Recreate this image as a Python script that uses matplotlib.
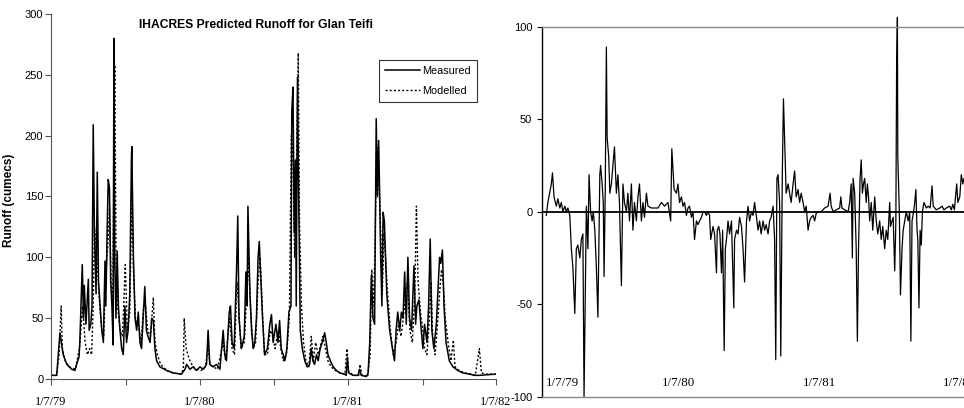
import matplotlib
matplotlib.use("Agg")
import matplotlib.pyplot as plt
import matplotlib.dates as mdates
import pandas as pd

# day offset from 1 Jul 1979, runoff (cumecs)
measured = [
    (0, 3), (14, 3), (22, 38), (30, 20), (39, 12), (51, 8), (59, 7), (63, 12), (69, 18), (71, 30),
    (77, 94), (80, 50), (82, 77), (86, 45), (92, 82), (94, 40), (98, 45), (101, 60), (104, 209),
    (107, 120), (111, 70), (114, 170), (117, 80), (121, 60), (125, 40), (129, 30), (133, 97),
    (135, 60), (139, 135), (141, 164), (144, 157), (147, 80), (150, 60), (153, 28), (155, 280),
    (157, 100), (160, 50), (163, 105), (166, 60), (170, 40), (174, 25), (178, 20), (182, 60),
    (186, 30), (190, 40), (194, 70), (198, 180), (199, 191), (203, 100), (207, 50), (211, 40),
    (215, 55), (219, 30), (223, 25), (227, 50), (231, 76), (235, 40), (239, 35), (244, 30),
    (248, 50), (252, 48), (256, 25), (260, 15), (268, 10), (285, 7), (301, 5), (321, 4), (330, 8),
    (334, 12), (342, 8), (350, 10), (358, 7), (367, 10), (375, 8), (383, 12), (387, 40), (391, 12),
    (399, 10), (408, 12), (416, 8), (424, 40), (428, 20), (432, 15), (439, 55), (442, 60), (446, 30),
    (451, 25), (457, 90), (460, 134), (463, 50), (469, 25), (476, 35), (480, 88), (483, 60),
    (485, 142), (490, 70), (494, 40), (498, 25), (502, 30), (506, 50), (510, 100), (513, 113),
    (516, 90), (521, 50), (526, 20), (533, 25), (539, 45), (543, 53), (547, 30), (554, 45),
    (559, 30), (563, 48), (567, 25), (572, 20), (576, 15), (581, 25), (586, 55), (591, 60),
    (593, 220), (596, 240), (599, 120), (602, 180), (604, 60), (607, 248), (610, 150), (614, 40),
    (619, 25), (625, 15), (631, 10), (637, 12), (641, 25), (645, 15), (649, 12), (654, 20),
    (658, 15), (663, 25), (668, 30), (674, 38), (678, 30), (682, 20), (688, 15), (695, 10),
    (703, 7), (711, 5), (723, 4), (727, 3), (730, 18), (733, 5), (744, 3), (756, 3), (760, 8),
    (764, 3), (777, 2), (781, 5), (785, 30), (789, 85), (793, 50), (797, 45), (801, 214),
    (804, 150), (807, 196), (809, 160), (812, 100), (815, 60), (818, 137), (821, 130), (824, 100),
    (827, 70), (834, 40), (841, 25), (846, 15), (850, 40), (854, 55), (859, 40), (863, 55),
    (867, 50), (871, 88), (875, 45), (879, 100), (883, 50), (888, 40), (894, 93), (898, 45),
    (901, 60), (906, 65), (912, 40), (916, 25), (920, 45), (926, 30), (930, 60), (934, 115),
    (938, 40), (943, 25), (949, 45), (954, 80), (957, 100), (960, 95), (964, 106), (968, 60),
    (973, 30), (981, 15), (990, 10), (1002, 7), (1014, 5), (1031, 4), (1043, 3), (1055, 3),
    (1095, 4),
]

modelled = [
    (0, 3), (14, 3), (20, 20), (25, 60), (28, 25), (35, 15), (45, 10), (60, 8), (70, 25), (78, 60),
    (84, 30), (90, 20), (95, 25), (100, 20), (104, 60), (107, 125), (111, 110), (115, 90),
    (120, 60), (125, 40), (130, 35), (134, 80), (140, 110), (144, 140), (148, 80), (152, 60),
    (157, 258), (160, 105), (164, 60), (170, 40), (176, 35), (183, 94), (188, 40), (194, 55),
    (199, 150), (203, 90), (208, 50), (215, 45), (222, 30), (228, 60), (233, 60), (238, 40),
    (245, 35), (252, 67), (256, 30), (262, 20), (270, 12), (285, 7), (300, 5), (320, 4), (326, 8),
    (328, 50), (333, 25), (337, 20), (342, 15), (350, 10), (360, 8), (370, 7), (380, 10), (387, 25),
    (392, 12), (400, 10), (410, 8), (424, 30), (430, 15), (440, 50), (446, 25), (452, 20),
    (458, 80), (462, 60), (468, 25), (476, 30), (482, 70), (486, 100), (492, 55), (498, 25),
    (504, 30), (510, 80), (515, 100), (520, 60), (526, 20), (533, 20), (540, 40), (546, 35),
    (552, 25), (560, 40), (566, 25), (572, 15), (580, 20), (587, 50), (592, 200), (596, 180),
    (600, 100), (603, 140), (609, 268), (612, 130), (617, 60), (622, 30), (628, 15), (635, 10),
    (641, 35), (646, 15), (652, 30), (658, 20), (664, 28), (670, 35), (676, 25), (682, 15),
    (690, 10), (700, 7), (712, 5), (724, 4), (729, 25), (733, 6), (745, 3), (758, 3), (761, 12),
    (766, 3), (780, 2), (786, 20), (790, 90), (795, 60), (800, 150), (804, 190), (808, 160),
    (812, 120), (816, 70), (820, 120), (824, 100), (829, 70), (836, 40), (843, 20), (850, 30),
    (856, 45), (862, 35), (868, 50), (873, 70), (878, 80), (884, 40), (890, 30), (896, 70),
    (900, 142), (904, 80), (910, 55), (916, 40), (920, 25), (926, 20), (932, 50), (936, 80),
    (940, 35), (946, 20), (952, 45), (958, 75), (962, 90), (966, 80), (971, 50), (978, 30),
    (985, 15), (991, 32), (995, 10), (1005, 7), (1020, 5), (1035, 4), (1045, 3), (1055, 25),
    (1060, 5), (1075, 4), (1095, 4),
]

residual = [
    (0, -2), (4, 5), (13, 15), (16, 21), (20, 8), (26, 3), (30, 7), (35, 2), (39, 5), (43, 0),
    (48, 3), (52, 0), (56, 2), (61, -2), (65, -20), (69, -30), (74, -55), (78, -20), (82, -18),
    (87, -25), (91, -15), (95, -12), (98, -100), (104, 3), (108, -20), (111, 20), (115, 0),
    (119, -5), (122, 0), (126, -10), (130, -30), (134, -57), (139, 20), (141, 25), (145, 15),
    (148, 5), (150, -35), (153, 10), (156, 89), (158, 40), (162, 30), (165, 10), (169, 15),
    (173, 25), (177, 35), (182, 10), (186, 20), (190, 5), (195, -40), (199, 15), (203, 5),
    (208, 0), (212, 10), (216, -5), (221, 15), (225, -10), (229, 5), (234, -5), (238, 8),
    (242, 15), (247, -5), (251, 5), (255, -3), (260, 10), (264, 3), (273, 2), (281, 2), (290, 2),
    (299, 5), (307, 3), (316, 5), (323, -5), (326, 34), (332, 12), (338, 10), (342, 15), (346, 5),
    (351, 8), (355, 3), (359, 5), (364, -2), (368, 2), (372, 3), (377, -3), (381, 0), (385, -15),
    (390, -5), (394, -7), (398, -5), (403, -3), (407, 0), (411, 0), (416, -2), (420, 0), (424, -2),
    (427, -15), (433, -8), (437, -12), (442, -33), (444, -10), (448, -8), (451, -12), (455, -33),
    (458, -10), (462, -75), (465, -20), (468, -15), (472, -5), (476, -12), (481, -5), (483, -20),
    (487, -52), (489, -15), (494, -10), (498, -12), (502, -3), (507, -8), (511, -20), (515, -38),
    (520, -5), (524, 3), (528, -5), (533, 0), (537, -2), (541, 5), (546, -3), (550, -10),
    (554, -5), (558, -12), (563, -5), (567, -10), (571, -7), (576, -12), (580, -5), (584, -3),
    (589, 3), (593, -15), (596, -80), (599, 18), (602, 20), (606, 5), (609, -78), (613, 20),
    (616, 61), (619, 40), (623, 10), (628, 15), (632, 10), (636, 5), (641, 15), (645, 22),
    (649, 8), (654, 12), (658, 5), (662, 10), (667, 5), (671, 0), (675, 3), (680, -10), (684, -5),
    (688, -3), (693, -2), (697, -5), (701, -1), (706, 0), (714, 0), (723, 2), (732, 3), (737, 10),
    (740, 3), (745, 0), (753, 1), (762, 2), (765, 8), (768, 2), (775, 1), (784, 0), (788, 5),
    (792, 15), (795, -25), (797, 18), (801, 10), (805, -20), (808, -70), (811, -20), (815, 18),
    (818, 28), (821, 10), (824, 15), (827, 18), (831, 5), (834, 15), (837, 8), (840, -5), (844, 5),
    (848, -10), (853, 8), (857, -5), (861, -12), (866, -5), (870, -15), (874, -8), (879, -20),
    (883, -10), (887, -15), (892, 5), (894, -8), (898, -5), (901, -3), (905, -32), (908, -5),
    (910, 80), (912, 105), (913, 30), (917, 0), (920, -45), (924, -20), (927, -10), (931, -5),
    (935, 0), (940, -5), (944, 0), (947, -70), (950, -5), (954, 0), (957, 5), (960, 12),
    (963, -10), (965, -15), (968, -52), (971, -10), (974, -18), (977, 0), (981, 5), (987, 2),
    (992, 3), (997, 2), (1002, 14), (1005, 3), (1013, 1), (1022, 2), (1028, 3), (1033, 1),
    (1039, 2), (1048, 3), (1052, 1), (1056, 4), (1060, 1), (1066, 15), (1069, 5), (1074, 8),
    (1078, 20), (1082, 15), (1085, 18),
]

runoff_ticks = [0, 50, 100, 150, 200, 250, 300]
resid_ticks = [-100, -50, 0, 50, 100]
resid_labels = ["1/7/79", "1/7/80", "1/7/81", "1/7/82"]

plt.rcParams["axes.unicode_minus"] = False

start = pd.Timestamp("1979-07-01")
sans = "Liberation Sans"
serif = "Liberation Serif"


def to_dates(pairs):
    days, vals = zip(*pairs)
    return start + pd.to_timedelta(list(days), unit="D"), list(vals)


fig = plt.figure(figsize=(9.64, 4.08), dpi=100)

# left panel: measured vs modelled runoff
ax1 = fig.add_axes([51 / 964, 1 - 379 / 408, 445 / 964, 365 / 408])
x, y = to_dates(measured)
ax1.plot(x, y, color="black", lw=1.1, label="Measured")
x, y = to_dates(modelled)
ax1.plot(x, y, color="black", lw=1.0, ls=(0, (1.5, 1.5)), label="Modelled")

ax1.set_xlim(start, pd.Timestamp("1982-07-01"))
ax1.set_ylim(0, 300)
ax1.set_yticks(runoff_ticks)
ax1.xaxis.set_major_locator(mdates.YearLocator(month=7, day=1))
ax1.xaxis.set_minor_locator(mdates.MonthLocator(bymonth=1))
ax1.xaxis.set_major_formatter(mdates.DateFormatter("%-d/%-m/%y"))
ax1.tick_params(axis="x", which="both", length=4, width=0.8, color="#555555", pad=8)
ax1.tick_params(axis="y", length=4, width=0.8, color="#555555", pad=1.5)
for lab in ax1.get_xticklabels():
    lab.set_family(serif)
    lab.set_fontsize(8.8)
for lab in ax1.get_yticklabels():
    lab.set_family(sans)
    lab.set_fontsize(8)
for s in ["top", "right"]:
    ax1.spines[s].set_visible(False)
for s in ["left", "bottom"]:
    ax1.spines[s].set_color("#555555")
    ax1.spines[s].set_linewidth(0.8)

ax1.set_ylabel("Runoff (cumecs)", fontweight="bold", fontsize=8.5, family=sans)
ax1.yaxis.set_label_coords(-0.081, 0.49)
ax1.set_title("IHACRES Predicted Runoff for Glan Teifi", fontweight="bold", fontsize=8.7,
              family=sans, x=0.46, y=0.94)

leg = ax1.legend(loc="upper right", bbox_to_anchor=(0.957, 0.874), borderaxespad=0,
                 fancybox=False, frameon=True, handlelength=3.2, handletextpad=0.2,
                 prop={"family": sans, "size": 7.8}, labelspacing=0.9, borderpad=0.55)
leg.get_frame().set_edgecolor("black")
leg.get_frame().set_linewidth(0.8)

# right panel: residuals
ax2 = fig.add_axes([541.7 / 964, 1 - 396.7 / 408, 422.3 / 964, 370 / 408])
x, y = to_dates(residual)
ax2.plot(x, y, color="black", lw=0.9, clip_on=False)
ax2.axhline(0, color="black", lw=1.3)
ax2.set_xlim(start - pd.Timedelta(days=12), start + pd.Timedelta(days=1085))
ax2.set_ylim(-100, 100)
ax2.set_yticks(resid_ticks)
ax2.set_xticks([])
ax2.tick_params(axis="y", length=3.3, width=0.8, pad=3.5)
for lab in ax2.get_yticklabels():
    lab.set_family(sans)
    lab.set_fontsize(8)
ax2.spines["right"].set_visible(False)
ax2.spines["left"].set_color("black")
ax2.spines["left"].set_linewidth(1.0)
for s in ["top", "bottom"]:
    ax2.spines[s].set_color("#888888")
    ax2.spines[s].set_linewidth(1.0)

for i, lab in enumerate(resid_labels):
    pos = start + pd.DateOffset(years=i)
    if i == 0:
        ax2.text(pos, 0.037, lab, transform=ax2.get_xaxis_transform(), ha="left",
                 va="center", family=serif, fontsize=9.3)
    else:
        ax2.text(pos - pd.Timedelta(days=22), 0.037, lab, transform=ax2.get_xaxis_transform(),
                 ha="center", va="center", family=serif, fontsize=9.3)

fig.savefig("out.png", dpi=100)
